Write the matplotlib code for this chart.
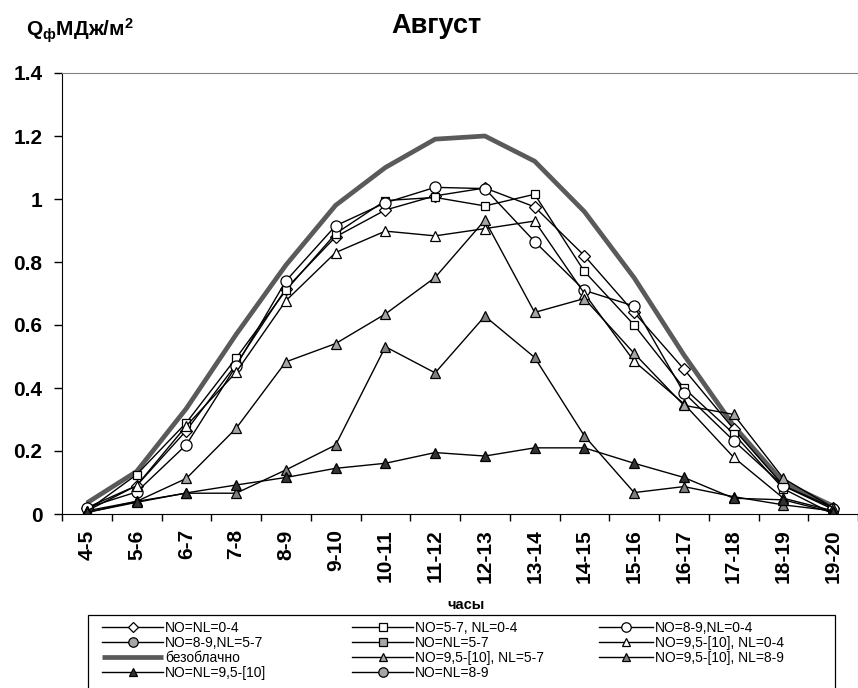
import numpy as np
import matplotlib
matplotlib.use("Agg")
import matplotlib.pyplot as plt
from matplotlib.patches import Rectangle

# ---------------- DATA ----------------
hours = ["4-5", "5-6", "6-7", "7-8", "8-9", "9-10", "10-11", "11-12",
         "12-13", "13-14", "14-15", "15-16", "16-17", "17-18", "18-19", "19-20"]

clear_sky = [0.035, 0.135, 0.335, 0.57, 0.79, 0.98, 1.10, 1.19,
             1.20, 1.12, 0.96, 0.75, 0.505, 0.28, 0.10, 0.025]
no_nl_0_4 = [0.02, 0.09, 0.265, 0.475, 0.715, 0.88, 0.965, 1.01,
             1.035, 0.975, 0.82, 0.64, 0.46, 0.27, 0.09, 0.02]
no_5_7_nl_0_4 = [0.01, 0.125, 0.29, 0.495, 0.71, 0.89, 0.995, 1.005,
                 0.978, 1.015, 0.77, 0.60, 0.40, 0.255, 0.08, 0.0]
no_8_9_nl_0_4 = [0.02, 0.07, 0.22, 0.47, 0.74, 0.915, 0.988, 1.037,
                 1.033, 0.865, 0.71, 0.66, 0.385, 0.233, 0.089, 0.015]
no_8_9_nl_5_7 = []
no_nl_5_7 = []
no_95_nl_0_4 = [0.01, 0.09, 0.28, 0.45, 0.677, 0.83, 0.898, 0.883,
                0.906, 0.93, 0.70, 0.485, 0.35, 0.18, 0.05, 0.01]
no_95_nl_5_7 = [0.01, 0.04, 0.113, 0.272, 0.483, 0.541, 0.635, 0.751,
                0.933, 0.64, 0.684, 0.51, 0.345, 0.316, 0.113, 0.02]
no_95_nl_8_9 = [0.005, 0.04, 0.066, 0.066, 0.14, 0.219, 0.531, 0.448,
                0.628, 0.497, 0.248, 0.068, 0.087, 0.055, 0.029, 0.01]
no_nl_95 = [0.005, 0.037, 0.067, 0.092, 0.116, 0.145, 0.161, 0.195,
            0.184, 0.21, 0.21, 0.161, 0.116, 0.05, 0.045, 0.005]
no_nl_8_9 = []

# ---------------- FONTS ----------------
plt.rcParams['font.family'] = ['Liberation Sans', 'DejaVu Sans']
plt.rcParams['mathtext.fontset'] = 'custom'
plt.rcParams['mathtext.rm'] = 'Liberation Sans:bold'
plt.rcParams['mathtext.it'] = 'Liberation Sans:bold'
plt.rcParams['mathtext.bf'] = 'Liberation Sans:bold'

W, H = 858, 688
fig = plt.figure(figsize=(W / 100, H / 100), dpi=100)
ax = fig.add_axes([62 / W, 1 - 514 / H, (W - 62) / W, (514 - 73) / H])

x = np.arange(len(hours))

def series(vals, marker, face, ms, label):
    xs = x[:len(vals)]
    h, = ax.plot(xs, vals, color='black', lw=1.0, marker=marker,
                 markerfacecolor=face, markeredgecolor='black',
                 markeredgewidth=0.9, markersize=ms, label=label)
    return h

h_clear, = ax.plot(x, clear_sky, color='#5a5a5a', lw=3.4, label='безоблачно',
                   solid_capstyle='butt', zorder=1)
h1 = series(no_nl_0_4, 'D', 'white', 6.5, 'NO=NL=0-4')
h2 = series(no_5_7_nl_0_4, 's', 'white', 6, 'NO=5-7, NL=0-4')
h3 = series(no_8_9_nl_0_4, 'o', 'white', 8, 'NO=8-9,NL=0-4')
h4 = series(no_8_9_nl_5_7, 'o', '#a6a6a6', 8, 'NO=8-9,NL=5-7')
h5 = series(no_nl_5_7, 's', '#a6a6a6', 6, 'NO=NL=5-7')
h6 = series(no_95_nl_0_4, '^', 'white', 7, 'NO=9,5-[10], NL=0-4')
h7 = series(no_95_nl_5_7, '^', '#a6a6a6', 7, 'NO=9,5-[10], NL=5-7')
h8 = series(no_95_nl_8_9, '^', '#7f7f7f', 7, 'NO=9,5-[10], NL=8-9')
h9 = series(no_nl_95, '^', '#333333', 7, 'NO=NL=9,5-[10]')
h10 = series(no_nl_8_9, 'o', '#a6a6a6', 8, 'NO=NL=8-9')

# axes styling
ax.set_ylim(0, 1.4)
ax.set_xlim(-0.5, 15.32)
ax.set_yticks(np.arange(0, 1.41, 0.2))
ax.set_yticklabels(['0', '0.2', '0.4', '0.6', '0.8', '1', '1.2', '1.4'],
                   fontsize=15, fontweight='bold')
ax.set_xticks(x)
ax.set_xticklabels(hours, rotation=90, fontsize=15, fontweight='bold')
ax.set_xticks(np.arange(-0.5, 15.6, 1), minor=True)
ax.tick_params(axis='x', which='major', length=0, pad=11)
ax.tick_params(axis='x', which='minor', length=5, width=1, direction='out')
ax.tick_params(axis='y', length=6, width=1, direction='out', pad=8)
ax.spines['right'].set_visible(False)
ax.spines['top'].set_color('#808080')

fig.text(436 / W, 1 - 26 / H, 'Август', fontsize=19.5, fontweight='bold',
         ha='center', va='center')
fig.text(26 / W, 1 - 31 / H, r'$\mathrm{Q_{ф}МДж/м^{2}}$', fontsize=15,
         ha='left', va='center')
fig.text(466 / W, 1 - 605 / H, 'часы', fontsize=10.5, fontweight='bold',
         ha='center', va='center')

# legend: three columns, filled row by row like the original
fig.patches.append(Rectangle((88 / W, -0.05), (835 - 88) / W, 0.05 + (H - 615) / H,
                             transform=fig.transFigure, fill=False,
                             edgecolor='black', lw=0.9))
cols = [([h1, h4, h_clear, h9], 102, 4.4),
        ([h2, h5, h7, h10], 352, 4.4),
        ([h3, h6, h8], 599, 3.9)]
for hs, x0, hl in cols:
    leg = fig.legend(handles=hs, labels=[h.get_label() for h in hs],
                     loc='upper left', bbox_to_anchor=(x0 / W, 1 - 621 / H),
                     frameon=False, borderpad=0, borderaxespad=0,
                     handlelength=hl, handletextpad=0.15, labelspacing=0.08,
                     markerscale=0.85, prop={'size': 10})

plt.savefig("out.png", dpi=100)
